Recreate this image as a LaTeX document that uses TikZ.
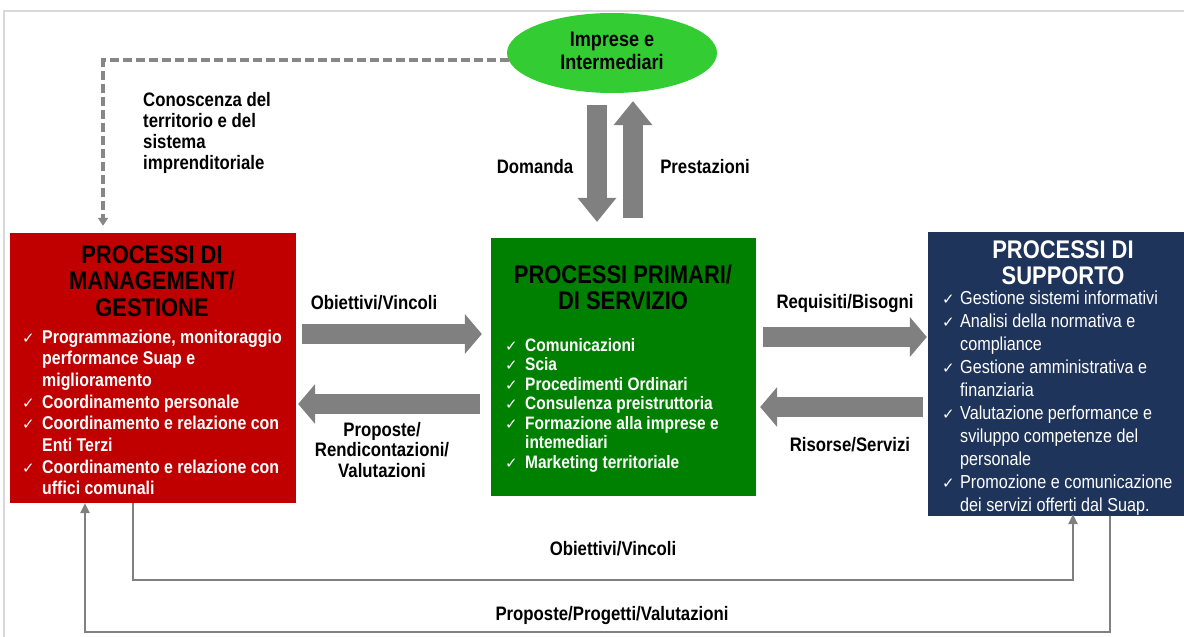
\documentclass[tikz,border=0pt]{standalone}
\usepackage{fontspec}
\setmainfont{Liberation Sans}[FakeStretch=0.86]
\newfontfamily\checkfont{DejaVu Sans}
\usetikzlibrary{arrows.meta,shapes.geometric}

\definecolor{mgmtred}{RGB}{192,0,0}
\definecolor{primgreen}{RGB}{0,128,0}
\definecolor{suppblue}{RGB}{31,52,90}
\definecolor{firmgreen}{RGB}{51,204,51}
\definecolor{arrowgray}{RGB}{128,128,128}
\definecolor{dashgray}{RGB}{135,135,135}
\definecolor{framegray}{RGB}{217,217,217}

% check mark in front of each list item
\newcommand{\chk}[1][20pt]{\makebox[#1][l]{\checkfont\fontsize{15}{15}\selectfont\symbol{"2713}}}
\newcommand{\textrows}[2]{\begin{tabular}[t]{@{}#1@{}}#2\end{tabular}}

\begin{document}
\begin{tikzpicture}[x=1pt,y=-1pt,
    procbox/.style={rectangle, inner sep=0pt},
    title/.style={font=\bfseries\fontsize{25.5}{26.5}\selectfont, inner sep=0pt, anchor=base},
    itemlist/.style={inner sep=0pt, anchor=base west, text=white},
    lbl/.style={font=\bfseries\fontsize{19.5}{21}\selectfont, inner sep=0pt},
    blockh/.style={arrowgray, line width=20pt, -{Triangle[width=40pt,length=17pt,line width=0pt 0]}},
    blockv/.style={arrowgray, line width=20pt, -{Triangle[width=39pt,length=24pt,line width=0pt 0]}},
    flow/.style={arrowgray, line width=2.8pt, -{Triangle[width=9pt,length=10pt]}}]

    \useasboundingbox[fill=white] (0,0) rectangle (1184,637);
    \draw[framegray, line width=1.5pt] (4,637) -- (4,11) -- (1184,11);

    % boxes
    \node[procbox, fill=mgmtred, minimum width=286pt, minimum height=270pt] (mgmt) at (153,368) {};
    \node[procbox, fill=primgreen, minimum width=265pt, minimum height=258pt] (prim) at (623.5,367) {};
    \node[procbox, fill=suppblue, minimum width=270pt, minimum height=284pt] (supp) at (1063,374) {};
    \node[ellipse, fill=firmgreen, minimum width=210pt, minimum height=80pt, inner sep=0pt,
        font=\bfseries\fontsize{21}{23}\selectfont] (firms) at (612,53) {\textrows{c}{Imprese e\\Intermediari}};

    \node[title] (mgmttitle) at (152,263) {\textrows{c}{PROCESSI DI\\MANAGEMENT/\\GESTIONE}};
    \node[title] (primtitle) at (623,283) {\textrows{c}{PROCESSI PRIMARI/\\DI SERVIZIO}};
    \node[title, text=white] (supptitle) at (1063,258) {\textrows{c}{PROCESSI DI\\SUPPORTO}};

    \node[itemlist, font=\bfseries\fontsize{18.5}{21.7}\selectfont] (mgmtlist) at (22,343) {\textrows{l@{}l}{
        \chk & Programmazione, monitoraggio\\
             & performance Suap e\\
             & miglioramento\\
        \chk & Coordinamento personale\\
        \chk & Coordinamento e relazione con\\
             & Enti Terzi\\
        \chk & Coordinamento e relazione con\\
             & uffici comunali}};
    \node[itemlist, font=\bfseries\fontsize{18}{19.5}\selectfont] (primlist) at (505,351) {\textrows{l@{}l}{
        \chk & Comunicazioni\\
        \chk & Scia\\
        \chk & Procedimenti Ordinari\\
        \chk & Consulenza preistruttoria\\
        \chk & Formazione alla imprese e\\
             & intemediari\\
        \chk & Marketing territoriale}};
    \node[itemlist, font=\fontsize{18.8}{23.1}\selectfont] (supplist) at (942,304) {\textrows{l@{}l}{
        \chk[18pt] & Gestione sistemi informativi\\
        \chk[18pt] & Analisi della normativa e\\
                   & compliance\\
        \chk[18pt] & Gestione amministrativa e\\
                   & finanziaria\\
        \chk[18pt] & Valutazione performance e\\
                   & sviluppo competenze del\\
                   & personale\\
        \chk[18pt] & Promozione e comunicazione\\
                   & dei servizi offerti dal Suap.}};

    % flows between the boxes
    \draw[dashgray, line width=3.5pt, dash pattern=on 9pt off 4pt, -{Triangle[width=10pt,length=8pt]}, shorten >=7pt]
        (firms.184) -| (mgmt.north -| 103,0);
    \draw[blockv, shorten <=12pt, shorten >=16pt] (firms.south -| 597,0) -- (prim.north -| 597,0);
    \draw[blockv, shorten <=20pt, shorten >=8pt] (prim.north -| 633,0) -- (firms.south -| 633,0);
    \draw[blockh, shorten <=6pt, shorten >=9pt] (mgmt.east |- 0,334) -- (prim.west |- 0,334);
    \draw[blockh, shorten <=11pt, shorten >=2pt] (prim.west |- 0,404) -- (mgmt.east |- 0,404);
    \draw[blockh, shorten <=7pt, shorten >=1pt] (prim.east |- 0,337) -- (supp.west |- 0,337);
    \draw[blockh, shorten <=5pt, shorten >=4pt] (supp.west |- 0,407) -- (prim.east |- 0,407);
    \draw[flow, shorten >=-2pt] (mgmt.south -| 133,0) -- (133,580) -- (1073,580) -- (supp.south -| 1073,0);
    \draw[flow] (supp.south -| 1110,0) -- (1110,632) -- (85,632) -- (mgmt.south -| 85,0);

    \node[lbl, anchor=base west] (knowledge) at (143,106) {\textrows{l}{Conoscenza del\\territorio e del\\sistema\\imprenditoriale}};
    \node[lbl] (demand) at (535,167) {Domanda};
    \node[lbl] (services) at (705,167) {Prestazioni};
    \node[lbl] (goals) at (374,303) {Obiettivi/Vincoli};
    \node[lbl, anchor=base, font=\bfseries\fontsize{19.5}{20.5}\selectfont] (proposals) at (382,436)
        {\textrows{c}{Proposte/\\Rendicontazioni/\\Valutazioni}};
    \node[lbl] (needs) at (845,303) {Requisiti/Bisogni};
    \node[lbl] (resources) at (850,445) {Risorse/Servizi};
    \node[lbl] (goalsbelow) at (613,549) {Obiettivi/Vincoli};
    \node[lbl] (proposalsbelow) at (612,615) {Proposte/Progetti/Valutazioni};
\end{tikzpicture}
\end{document}
